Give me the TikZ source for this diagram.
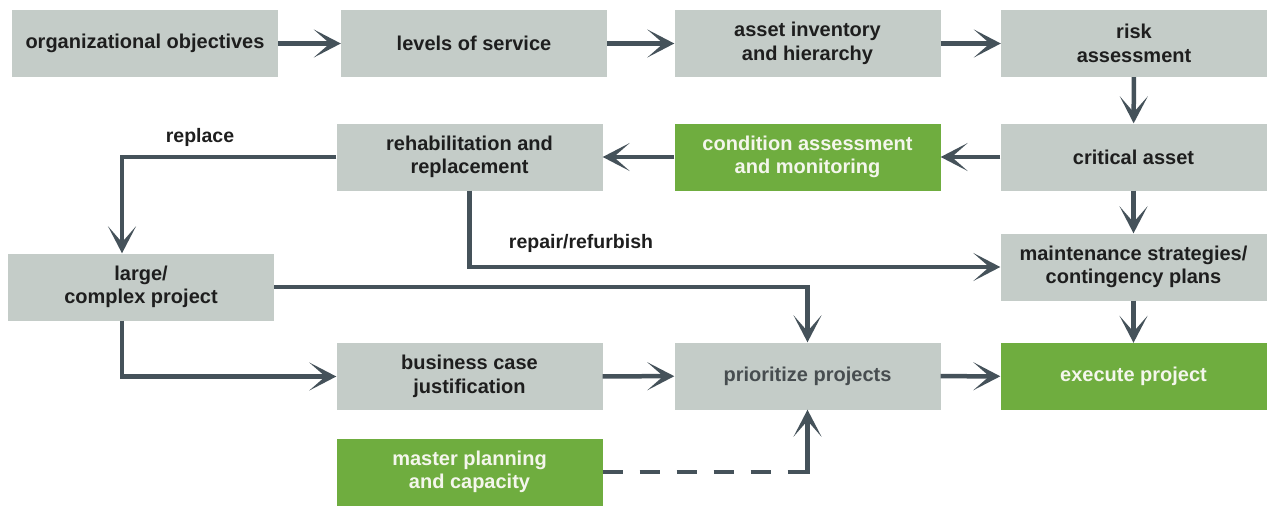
\documentclass[tikz,border=0pt]{standalone}
\usepackage{fontspec}
\setmainfont{Liberation Sans}
\usetikzlibrary{arrows.meta}
\definecolor{GREY}{HTML}{C4CCC8}
\definecolor{GREEN}{HTML}{6FAD3F}
\definecolor{SLATE}{HTML}{45525A}
\definecolor{INK}{HTML}{1E1E1E}
\definecolor{DIMINK}{HTML}{474D50}
\definecolor{PALE}{HTML}{F4F6EC}

\begin{document}
\begin{tikzpicture}[x=1pt, y=-1pt,
    greybox/.style={fill=GREY, text=INK, minimum width=266pt, minimum height=67pt, inner sep=0pt,
        align=center, font=\fontsize{20}{23.5}\selectfont\bfseries},
    greenbox/.style={greybox, fill=GREEN, text=PALE},
    lbl/.style={text=INK, font=\fontsize{19.5}{22}\selectfont\bfseries},
    flow/.style={SLATE, line width=4.5pt, -{Stealth[length=27pt, width=28pt, inset=16pt]}}]
    \useasboundingbox (0,0) rectangle (1268,506);
    % top row
    \node[greybox] (org) at (145,43.5) {organizational objectives};
    \node[greybox] (lvl) at (474,43.5) {levels of service};
    \node[greybox] (inv) at (807.5,43.5) {asset inventory\\and hierarchy};
    \node[greybox] (risk) at (1134,43.5) {risk\\assessment};
    % second row
    \node[greybox] (rehab) at (469.5,157) {rehabilitation and\\replacement};
    \node[greenbox] (cond) at (807.5,157) {condition assessment\\and monitoring};
    \node[greybox] (crit) at (1133.5,157) {critical asset};
    % third row
    \node[greybox] (large) at (141,287) {large/\\complex project};
    \node[greybox] (maint) at (1133.5,267) {maintenance strategies/\\contingency plans};
    % bottom rows
    \node[greybox] (biz) at (469.5,376.5) {business case\\justification};
    \node[greybox, text=DIMINK] (prio) at (807.5,376) {prioritize projects};
    \node[greenbox] (exec) at (1133.5,376.5) {execute project};
    \node[greenbox] (master) at (469.5,472) {master planning\\and capacity};
    \coordinate (rp) at (122,0);
    % labels
    \node[lbl] (replace) at (200,137) {replace};
    \node[lbl] (repair) at (581,243) {repair/refurbish};
    % connectors
    \draw[flow] (org) -- (lvl);
    \draw[flow] (lvl) -- (inv);
    \draw[flow] (inv) -- (risk);
    \draw[flow] (risk) -- (crit);
    \draw[flow] (crit) -- (cond);
    \draw[flow] (cond) -- (rehab);
    \draw[flow] (crit) -- (maint);
    \draw[flow] (maint) -- (exec);
    \draw[flow] (rehab.west) -| (rp |- large.north);
    \draw[flow] (rehab.south) |- (maint.west);
    \draw[flow] (large.east) -| (prio.north);
    \draw[flow] (rp |- large.south) |- (biz.west);
    \draw[flow] (biz) -- (prio);
    \draw[flow] (prio) -- (exec);
    \draw[flow, dash pattern=on 20pt off 17pt on 20pt off 17pt on 20pt off 17pt on 20pt off 17pt on 20pt off 17pt on 200pt off 0pt]
        (master.east) -| (prio.south);
\end{tikzpicture}
\end{document}
